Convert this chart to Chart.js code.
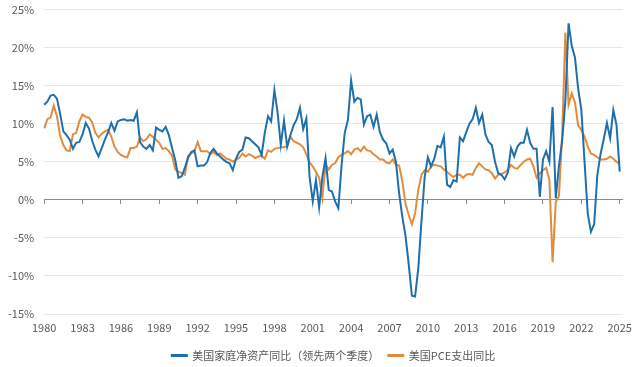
<!DOCTYPE html>
<html>
<head>
<meta charset="utf-8">
<script src="https://cdn.jsdelivr.net/npm/chart.js@4.4.1/dist/chart.umd.min.js"></script>
<style>
  body { margin: 0; background: #fff; }
  #wrap { width: 640px; height: 367px; }
</style>
</head>
<body>
<div id="wrap"><canvas id="graph"></canvas></div>
<script>
// tick labels shown on the x axis
var tickYears = ['1980', '1983', '1986', '1989', '1992', '1995', '1998', '2001',
  '2004', '2007', '2010', '2013', '2016', '2019', '2022', '2025'];

// quarterly categories 1980Q1 .. 2025Q2 (last one left empty)
var quarters = [];
for (var yr = 1980; yr <= 2025; yr++) {
  for (var q = 1; q <= 4; q++) {
    if (yr == 2025 && q > 2) break;
    quarters.push(yr + 'Q' + q);
  }
}

// 美国家庭净资产同比（领先两个季度）, %
var netWorth = [
  12.5, 12.9, 13.7, 13.8,   13.3, 11.3, 9.0, 8.5,   7.9, 6.7, 7.5, 7.6,   8.6, 10.1, 9.4, 7.8,
  6.6, 5.7, 6.8, 7.9,       8.9, 10.1, 9.1, 10.3,   10.5, 10.6, 10.4, 10.5, 10.4, 11.5, 7.6, 7.0,
  6.7, 7.2, 6.5, 9.5,       9.2, 9.0, 9.6, 8.5,     6.8, 5.2, 2.9, 3.1,   4.2, 5.5, 6.3, 6.5,
  4.4, 4.5, 4.5, 5.0,       6.2, 6.7, 6.1, 5.7,     5.3, 5.0, 4.8, 3.9,   5.4, 6.3, 6.6, 8.2,
  8.1, 7.7, 7.3, 6.9,       5.9, 8.8, 11.0, 10.3,   14.4, 11.5, 7.2, 10.4, 7.0, 8.5, 9.8, 10.6,
  12.1, 9.3, 10.7, 3.0,     -0.2, 2.6, -1.0, 3.0,   5.5, 1.3, 1.1, -0.2,  -1.1, 4.5, 8.8, 10.5,
  15.7, 12.9, 13.4, 13.2,   9.9, 11.0, 11.2, 9.6,   11.2, 8.9, 7.9, 7.4,  6.1, 6.6, 5.0, 0.9,
  -2.2, -4.7, -8.4, -12.6,  -12.7, -9.0, -2.8, 3.0, 5.6, 4.4, 5.4, 7.1,   6.9, 8.3, 2.0, 1.7,
  2.6, 2.4, 8.2, 7.7,       8.9, 10.0, 10.6, 12.1,  10.1, 11.2, 8.6, 7.6, 7.2, 5.0, 3.5, 3.3,
  2.7, 3.6, 6.8, 5.7,       7.0, 7.5, 7.5, 9.2,     7.5, 6.7, 6.7, 0.4,   5.3, 6.4, 5.0, 12.2,
  0.2, 4.5, 7.8, 13.0,      23.2, 20.2, 18.7, 14.6, 11.8, 5.0, -1.8, -4.2, -3.2, 3.3, 6.0, 8.0,
  10.1, 8.1, 11.8, 9.8,     3.7
];

// 美国PCE支出同比, %
var pce = [
  9.4, 10.6, 10.8, 12.4,    11.0, 8.4, 7.2, 6.5,    6.4, 8.6, 8.8, 10.3,  11.2, 10.9, 10.8, 10.2,
  8.8, 8.2, 8.7, 9.0,       9.2, 8.3, 7.0, 6.3,     5.9, 5.7, 5.6, 6.8,   6.8, 7.0, 8.2, 7.7,
  8.0, 8.6, 8.3, 7.9,       7.5, 6.7, 6.8, 6.4,     5.8, 4.0, 3.7, 3.5,   3.3, 5.8, 6.1, 6.4,
  7.6, 6.4, 6.4, 6.4,       6.0, 6.3, 5.9, 6.1,     5.8, 5.4, 5.3, 5.0,   5.3, 5.5, 6.1, 5.7,
  6.0, 5.8, 5.5, 5.7,       5.8, 5.4, 6.5, 6.3,     6.7, 6.8, 6.9, 6.9,   7.1, 8.3, 7.7, 7.5,
  7.3, 6.9, 6.0, 4.9,       4.4, 3.7, 2.9, 0.3,     4.6, 4.0, 4.6, 4.8,   5.6, 5.9, 6.1, 6.4,
  6.0, 6.6, 6.8, 6.4,       7.0, 6.5, 6.4, 6.0,     5.7, 5.3, 5.3, 4.9,   4.8, 5.3, 4.6, 4.5,
  2.5, -0.5, -2.0, -3.2,    -1.8, 1.3, 3.3, 3.9,    3.7, 4.4, 4.6, 4.5,   4.4, 4.0, 3.7, 3.3,
  3.0, 3.3, 3.3, 2.9,       3.3, 3.4, 3.3, 4.2,     4.8, 4.4, 4.0, 3.9,   3.5, 2.8, 3.3, 3.4,
  3.6, 3.9, 4.6, 4.2,       4.1, 4.6, 5.0, 5.3,     5.4, 4.4, 2.9, 3.5,   3.9, 4.2, 2.6, -8.2,
  -0.3, 0.5, 8.5, 22.0,     12.5, 14.0, 12.8, 9.8,  9.2, 8.3, 7.0, 6.1,   5.9, 5.6, 5.3, 5.3,
  5.4, 5.7, 5.4, 5.0,       4.7
];

var FONT = "'Noto Sans CJK SC', 'Noto Sans', sans-serif";
var TEXT = '#595959';
var AXIS = '#8c8c8c';

// only the first quarter of every third year gets a label / tick mark
function yearTick(index) {
  var label = quarters[index];
  if (!label || label.slice(4) != 'Q1') return null;
  var year = label.slice(0, 4);
  return tickYears.indexOf(year) >= 0 ? year : null;
}

function chartSetup() {
  return {
    type: 'line',
    data: {
      labels: quarters,
      datasets: [{
        label: '美国家庭净资产同比（领先两个季度）',
        data: netWorth,
        borderColor: '#1f6fab',
        backgroundColor: '#1f6fab',
        borderWidth: 2,
        pointRadius: 0,
        tension: 0,
        xAxisID: 'x'
      }, {
        label: '美国PCE支出同比',
        data: pce,
        borderColor: '#e38b3f',
        backgroundColor: '#e38b3f',
        borderWidth: 2,
        pointRadius: 0,
        tension: 0,
        xAxisID: 'x'
      }]
    },
    options: {
      responsive: true,
      maintainAspectRatio: false,
      animation: false,
      layout: { padding: { left: 5, right: 11, top: 3, bottom: 0 } },
      plugins: {
        legend: {
          position: 'bottom',
          fullSize: false,
          maxHeight: 26,
          labels: {
            boxWidth: 15,
            boxHeight: 1,
            padding: 9,
            color: TEXT,
            font: { family: FONT, size: 11 }
          }
        },
        tooltip: { enabled: false }
      },
      scales: {
        x: {
          type: 'category',
          position: 'bottom',
          grid: { display: false, drawTicks: false },
          border: { display: false },
          ticks: {
            autoSkip: false,
            maxRotation: 0,
            minRotation: 0,
            padding: 8,
            color: TEXT,
            font: { family: FONT, size: 11, lineHeight: 1 },
            callback: function(value, index) { return yearTick(index); }
          }
        },
        // axis line at 0% with small tick marks under it
        zero: {
          type: 'category',
          axis: 'x',
          position: { y: 0 },
          ticks: {
            display: false,
            autoSkip: false,
            callback: function(value, index) { return yearTick(index); }
          },
          grid: {
            drawOnChartArea: false,
            drawTicks: true,
            tickLength: 4,
            color: AXIS,
            tickColor: AXIS
          },
          border: { display: true, color: AXIS, width: 1 }
        },
        y: {
          min: -15,
          max: 25,
          // invisible tick marks keep the labels away from the plot
          grid: { color: '#e6e6e6', drawTicks: true, tickLength: 7, tickColor: 'rgba(0,0,0,0)' },
          border: { display: false },
          ticks: {
            stepSize: 5,
            padding: 3,
            color: TEXT,
            font: { family: FONT, size: 11 },
            callback: function(value) { return value + '%'; }
          }
        }
      }
    }
  };
}

var context = document.querySelector('#graph').getContext('2d');
var chart = new Chart(context, chartSetup());
</script>
</body>
</html>
